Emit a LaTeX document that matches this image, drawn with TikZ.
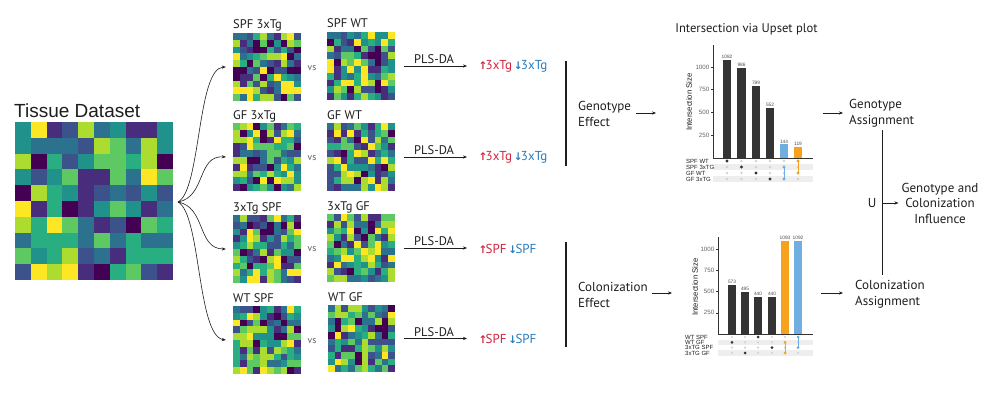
\documentclass[tikz,border=0pt]{standalone}
\usepackage{fontspec}
\setmainfont{PT Sans}
\newfontfamily\arialf{Liberation Sans}
\newfontfamily\dejavuf{DejaVu Sans}
\usetikzlibrary{arrows.meta}

\definecolor{vir0}{RGB}{68,1,84}
\definecolor{vir1}{RGB}{71,45,123}
\definecolor{vir2}{RGB}{59,82,139}
\definecolor{vir3}{RGB}{44,114,142}
\definecolor{vir4}{RGB}{33,145,140}
\definecolor{vir5}{RGB}{40,174,128}
\definecolor{vir6}{RGB}{94,201,98}
\definecolor{vir7}{RGB}{173,220,48}
\definecolor{vir8}{RGB}{253,231,37}
\definecolor{txtred}{RGB}{208,38,62}
\definecolor{txtblue}{RGB}{42,124,188}
\definecolor{barblue}{RGB}{112,174,226}
\definecolor{barorange}{RGB}{246,162,30}
\definecolor{bardark}{RGB}{52,52,52}
\definecolor{stripe}{RGB}{238,238,238}
\definecolor{dotgrey}{RGB}{210,210,210}
\definecolor{ink}{RGB}{30,30,30}

\newcommand{\heatrand}[4]{%
  \pgfmathsetseed{#4}%
  \foreach \r in {0,...,9}{\foreach \c in {0,...,9}{%
    \pgfmathtruncatemacro{\hv}{random(0,8)}%
    \fill[vir\hv] ({#1+\c*#3},{#2+\r*#3}) rectangle ({#1+(\c+1)*#3+0.25},{#2+(\r+1)*#3+0.25});}}}

\newcommand{\upa}{\makebox[5.5pt][c]{\dejavuf\bfseries\fontsize{10.5}{10}\selectfont ↑}}
\newcommand{\dna}{\makebox[5.5pt][c]{\dejavuf\bfseries\fontsize{10.5}{10}\selectfont ↓}}

\tikzset{
  lbl/.style={font=\fontsize{13}{16}\selectfont, text=ink, inner sep=2pt},
  conn/.style={-{Stealth[length=4pt,width=3.2pt]}, line width=0.6pt, draw=ink},
  vbar/.style={line width=1.1pt, draw=ink},
  hmlbl/.style={font=\fontsize{12.5}{15}\selectfont, text=ink, anchor=base west, inner sep=0pt},
  hmbox/.style={minimum width=68pt, minimum height=68pt, inner sep=0pt},
  vslbl/.style={font=\fontsize{9.5}{10}\selectfont, text=black!65},
  res/.style={font=\fontsize{13}{15}\selectfont, inner sep=1pt, anchor=west},
  pls/.style={font=\fontsize{12.5}{15}\selectfont, text=ink, above, midway, xshift=-3pt, inner sep=2pt},
  ticklab/.style={font=\arialf\fontsize{6.2}{7}\selectfont, text=black!60, anchor=east, inner sep=0pt},
  vallab/.style={font=\arialf\fontsize{4.8}{5}\selectfont, text=black!70, anchor=south, inner sep=1.2pt},
  rowlab/.style={font=\arialf\fontsize{6}{6}\selectfont, text=ink, anchor=west, inner sep=0pt},
  ylab/.style={font=\arialf\fontsize{7.8}{8}\selectfont, text=ink, rotate=90, inner sep=0pt},
  axisline/.style={line width=0.6pt, draw=black!80},
}

\begin{document}
\begin{tikzpicture}[x=1pt,y=-1pt]
\useasboundingbox[fill=white] (0,0) rectangle (1000,404);

% ---------- Tissue dataset ----------
\node[font=\arialf\fontsize{19}{22}\selectfont, text=ink, anchor=base west, inner sep=0pt] (title) at (14,117.5) {Tissue Dataset};
\foreach \row [count=\r from 0] in {
 {4,8,1,2,7,3,4,1,1,4},
 {4,3,3,3,2,7,6,3,7,4},
 {7,0,5,2,4,6,6,5,7,0},
 {4,2,4,6,1,1,6,3,8,6},
 {0,7,5,4,1,2,3,2,4,2},
 {8,1,5,0,1,4,6,4,1,3},
 {7,5,8,6,3,1,2,0,6,5},
 {3,5,5,5,3,6,3,5,3,3},
 {6,4,5,7,2,3,1,5,5,5},
 {2,8,7,8,1,0,5,6,2,1}}{
  \foreach \v [count=\c from 0] in \row {
    \fill[vir\v] ({15+\c*15.8},{122+\r*15.8}) rectangle ({15+(\c+1)*15.8+0.3},{122+(\r+1)*15.8+0.3});
  }
}
\node[minimum width=158pt, minimum height=158pt, inner sep=0pt] (T) at (94,201) {};
\coordinate (src) at (178,202);

% ---------- small heatmaps ----------
\heatrand{233}{33}{6.8}{11}
\heatrand{327}{32}{6.8}{23}
\heatrand{233}{123}{6.8}{37}
\heatrand{327}{123}{6.8}{41}
\heatrand{233}{215}{6.8}{53}
\heatrand{327}{214}{6.8}{67}
\heatrand{233}{306}{6.8}{71}
\heatrand{328}{305}{6.7}{89}
\node[hmbox] (h1) at (267,67) {};
\node[hmbox] (h2) at (361,66) {};
\node[hmbox] (h3) at (267,157) {};
\node[hmbox] (h4) at (361,157) {};
\node[hmbox] (h5) at (267,249) {};
\node[hmbox] (h6) at (361,248) {};
\node[hmbox] (h7) at (267,340) {};
\node[hmbox, minimum width=67pt, minimum height=67pt] (h8) at (361.5,338.5) {};

\node[hmlbl] (l1) at (233,28.5) {SPF 3xTg};
\node[hmlbl] (l2) at (327,28) {SPF WT};
\node[hmlbl] (l3) at (233,119.5) {GF 3xTg};
\node[hmlbl] (l4) at (327,119) {GF WT};
\node[hmlbl] (l5) at (233,211.5) {3xTg SPF};
\node[hmlbl] (l6) at (327,210.5) {3xTg GF};
\node[hmlbl] (l7) at (233,302.5) {WT SPF};
\node[hmlbl] (l8) at (328,301.5) {WT GF};

\node[vslbl] (vs1) at (312,68) {vs};
\node[vslbl] (vs2) at (312,158) {vs};
\node[vslbl] (vs3) at (312,249) {vs};
\node[vslbl] (vs4) at (312,341) {vs};

% tissue -> heatmaps
\draw[conn] (src) .. controls (201,190) and (197,68) .. ([xshift=-7pt]h1.west);
\draw[conn] (src) .. controls (206,197) and (197,155) .. ([xshift=-7pt]h3.west);
\draw[conn] (src) .. controls (206,207) and (197,249) .. ([xshift=-7pt]h5.west);
\draw[conn] (src) .. controls (201,214) and (197,336) .. ([xshift=-7pt]h7.west);

% ---------- PLS-DA results ----------
\node[res] (r1) at (479,66) {\textcolor{txtred}{\upa3xTg} \textcolor{txtblue}{\dna3xTg}};
\node[res] (r2) at (479,157) {\textcolor{txtred}{\upa3xTg} \textcolor{txtblue}{\dna3xTg}};
\node[res] (r3) at (479,249) {\textcolor{txtred}{\upa SPF} \textcolor{txtblue}{\dna SPF}};
\node[res] (r4) at (479,339) {\textcolor{txtred}{\upa SPF} \textcolor{txtblue}{\dna SPF}};

\draw[conn, shorten <=9pt, shorten >=12pt] (h2.east) -- node[pls]{PLS-DA} (h2.east -| r1.west);
\draw[conn, shorten <=9pt, shorten >=12pt] (h4.east) -- node[pls]{PLS-DA} (h4.east -| r2.west);
\draw[conn, shorten <=9pt, shorten >=12pt] (h6.east) -- node[pls]{PLS-DA} (h6.east -| r3.west);
\draw[conn, shorten <=9pt, shorten >=12pt] (h8.east) -- node[pls]{PLS-DA} (h8.east -| r4.west);

% ---------- effect brackets ----------
\coordinate (g1) at (566,61);
\coordinate (g2) at (566,166);
\coordinate (c1) at (566,242);
\coordinate (c2) at (566,347);
\draw[vbar] (g1) -- (g2);
\draw[vbar] (c1) -- (c2);

\node[lbl, anchor=west, align=left] (GE) at (576,113.5) {Genotype\\Effect};
\node[lbl, anchor=west, align=left] (CE) at (576,294.5) {Colonization\\Effect};
\coordinate (up1in) at (656,113);
\coordinate (up2in) at (672,293);
\draw[conn, shorten <=3pt] (GE.east |- up1in) -- (up1in);
\draw[conn, shorten <=2pt] (CE.east |- up2in) -- (up2in);

% ---------- Upset plot 1 ----------
\node[font=\fontsize{12.6}{14}\selectfont, text=ink] (ut) at (746.5,29) {Intersection via Upset plot};
\draw[axisline] (713,45) -- (713,158) -- (813,158);
\foreach \v in {250,500,750,1000}{
  \pgfmathsetmacro{\yy}{157.5-\v*0.0905}
  \draw[axisline, line width=0.4pt] (711,\yy) -- (713,\yy);
  \node[ticklab] at (709.5,\yy) {\v};
}
\node[ylab] (yl1) at (689,102) {Intersection Size};
\fill[stripe] (713,164) rectangle (813,170);
\fill[stripe] (713,176) rectangle (813,182);
\foreach \x/\v/\c [count=\i] in {727/1082/bardark,741.5/986/bardark,756/789/bardark,770/552/bardark,784/144/barblue,798/119/barorange}{
  \pgfmathsetmacro{\ytop}{157.5-\v*0.0905}
  \fill[\c] ({\x-4.3},157.6) rectangle ({\x+4.3},\ytop);
  \node[vallab] (va\i) at (\x,\ytop) {\v};
  \foreach \y in {161,167,173,179}{\fill[dotgrey] (\x,\y) circle[radius=1.3pt];}
}
\node[rowlab] (ra1) at (686,161) {SPF WT};
\node[rowlab] (ra2) at (686,167) {SPF 3xTG};
\node[rowlab] (ra3) at (686,173) {GF WT};
\node[rowlab] (ra4) at (686,179) {GF 3xTG};
\fill[bardark] (727,161) circle[radius=1.6pt];
\fill[bardark] (741.5,167) circle[radius=1.6pt];
\fill[bardark] (756,173) circle[radius=1.6pt];
\fill[bardark] (770,179) circle[radius=1.6pt];
\draw[barblue, line width=1pt] (784,167) -- (784,179);
\fill[barblue] (784,167) circle[radius=1.6pt];
\fill[barblue] (784,179) circle[radius=1.6pt];
\draw[barorange, line width=1pt] (798,161) -- (798,173);
\fill[barorange] (798,161) circle[radius=1.6pt];
\fill[barorange] (798,173) circle[radius=1.6pt];

% ---------- Upset plot 2 ----------
\draw[axisline] (718,237) -- (718,334) -- (813,334);
\foreach \v in {250,500,750,1000}{
  \pgfmathsetmacro{\yy}{334-\v*0.085}
  \draw[axisline, line width=0.4pt] (716,\yy) -- (718,\yy);
  \node[ticklab] at (714.5,\yy) {\v};
}
\node[ylab] (yl2) at (695,287) {Intersection Size};
\fill[stripe] (718,339.6) rectangle (813,345);
\fill[stripe] (718,350.3) rectangle (813,355.7);
\foreach \x/\v/\c [count=\i] in {732/573/bardark,745/495/bardark,758/440/bardark,772/440/bardark,785/1093/barorange,798/1092/barblue}{
  \pgfmathsetmacro{\ytop}{334-\v*0.085}
  \fill[\c] ({\x-4.2},334.1) rectangle ({\x+4.2},\ytop);
  \node[vallab] (vb\i) at (\x,\ytop) {\v};
  \foreach \y in {337,342.3,347.6,353}{\fill[dotgrey] (\x,\y) circle[radius=1.2pt];}
}
\node[rowlab] (rb1) at (685,337) {WT SPF};
\node[rowlab] (rb2) at (685,342.3) {WT GF};
\node[rowlab] (rb3) at (685,347.6) {3xTG SPF};
\node[rowlab] (rb4) at (685,353) {3xTG GF};
\fill[bardark] (732,342.3) circle[radius=1.5pt];
\fill[bardark] (745,353) circle[radius=1.5pt];
\fill[bardark] (758,337) circle[radius=1.5pt];
\fill[bardark] (772,347.6) circle[radius=1.5pt];
\draw[barorange, line width=1pt] (785,342.3) -- (785,353);
\fill[barorange] (785,342.3) circle[radius=1.5pt];
\fill[barorange] (785,353) circle[radius=1.5pt];
\draw[barblue, line width=1pt] (798,337) -- (798,347.6);
\fill[barblue] (798,337) circle[radius=1.5pt];
\fill[barblue] (798,347.6) circle[radius=1.5pt];

% ---------- assignments ----------
\node[lbl, anchor=west, align=left] (GA) at (847,113.5) {Genotype\\Assignment};
\node[lbl, anchor=west, align=left] (CA) at (853,294.5) {Colonization\\Assignment};
\coordinate (up1out) at (823,113);
\coordinate (up2out) at (821,293);
\draw[conn, shorten >=4pt] (up1out) -- (up1out -| GA.west);
\draw[conn, shorten >=10pt] (up2out) -- (up2out -| CA.west);

\coordinate (ua) at (882,130);
\coordinate (ub) at (882,275);
\draw[vbar, line width=1pt] (ua) -- (ub);
\node[lbl] (U) at (872,203) {U};
\node[lbl, align=center, font=\fontsize{13}{15.5}\selectfont] (GCI) at (940,203) {Genotype and\\Colonization\\Influence};
\coordinate (um) at (883,203);
\draw[conn, shorten >=1pt] (um) -- (um -| GCI.west);
\end{tikzpicture}
\end{document}
